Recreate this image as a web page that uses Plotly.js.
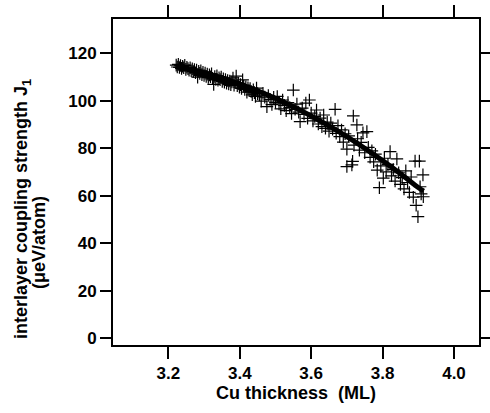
<!DOCTYPE html>
<html><head><meta charset="utf-8">
<script src="https://cdn.plot.ly/plotly-3.0.1.min.js"></script>
<style>body{margin:0;background:#fff}#plot{width:490px;height:413px}</style>
</head><body><div id="plot"></div>
<script>
// Measured points (Cu thickness in ML, J1 in ueV/atom)
const measX = [
3.222,3.225,3.228,3.231,3.234,3.237,3.240,3.243,3.246,3.249,3.252,3.255,3.258,3.261,3.264,3.267,3.270,3.273,3.276,3.279,
3.282,3.285,3.288,3.291,3.294,3.297,3.300,3.303,3.306,3.309,3.312,3.315,3.318,3.321,3.324,3.327,3.330,3.333,3.336,3.339,
3.342,3.345,3.348,3.351,3.354,3.357,3.360,3.363,3.366,3.369,3.372,3.375,3.378,3.381,3.384,3.387,3.390,3.393,3.396,3.399,
3.402,3.405,3.408,3.411,3.414,3.417,3.420,3.423,3.426,3.429,3.432,3.435,3.438,3.441,3.444,3.447,3.450,
3.455,3.460,3.465,3.470,3.476,3.480,3.485,3.490,3.495,3.500,3.505,3.510,3.515,3.520,3.525,3.530,3.535,3.540,3.545,3.550,
3.555,3.560,3.565,3.569,3.575,3.580,3.585,3.590,3.595,3.600,3.605,3.610,3.615,3.620,3.625,3.630,3.635,3.640,3.645,3.650,
3.655,3.660,3.667,3.670,3.675,3.680,3.685,3.690,3.695,3.700,3.700,3.705,3.714,3.716,3.718,3.720,3.728,3.730,3.735,3.740,
3.745,3.750,3.756,3.760,3.765,3.770,3.775,3.780,3.785,3.791,3.795,3.802,3.805,3.810,3.815,3.821,3.825,3.830,3.835,3.840,
3.845,3.850,3.855,3.860,3.865,3.870,3.875,3.880,3.886,3.891,3.894,3.899,3.903,3.905,3.908,3.913,3.914];
const measY = [
115.0,114.2,115.3,114.0,114.8,113.6,114.5,113.9,114.9,113.2,114.1,113.5,112.8,113.9,112.6,113.4,112.3,113.1,111.8,112.9,
109.9,112.4,111.5,112.6,111.0,112.0,110.6,111.6,110.2,111.2,109.8,110.9,110.1,111.3,109.4,106.9,110.2,109.0,110.5,108.6,
109.7,108.9,110.0,108.1,109.2,107.8,108.9,107.4,108.5,107.1,108.3,106.8,107.9,109.6,106.5,107.6,110.4,106.3,107.3,105.7,
106.8,105.2,108.8,106.1,104.8,105.9,103.6,105.4,104.3,105.1,103.9,102.5,104.6,103.4,101.8,105.3,103.0,
102.4,99.8,103.1,101.5,97.5,102.2,100.6,98.4,101.4,99.3,101.8,98.7,96.6,100.3,98.0,95.8,99.2,97.1,94.6,104.5,
96.4,98.6,95.2,91.2,96.9,94.3,99.0,92.6,100.3,94.8,91.5,93.4,96.1,90.2,92.7,89.1,94.0,88.4,91.0,87.2,
90.6,88.0,96.4,86.3,89.5,84.9,87.7,82.6,86.1,79.6,72.3,85.2,73.0,74.5,93.6,81.3,89.8,84.0,79.2,82.5,
86.5,78.1,87.0,80.4,76.2,78.9,74.3,77.5,70.8,63.4,72.6,67.4,75.8,70.1,73.2,78.6,68.4,71.0,66.2,75.5,
69.7,64.8,67.6,62.9,70.5,65.6,61.4,67.9,59.4,74.6,56.0,51.2,74.6,63.8,60.8,68.8,59.6];
// Fitted curve
const fitX = [3.22,3.25,3.30,3.35,3.40,3.45,3.50,3.55,3.60,3.65,3.70,3.75,3.80,3.85,3.90,3.915];
const fitY = [114.4,113.5,111.7,109.6,107.0,104.2,101.0,97.5,93.6,89.4,84.9,80.0,74.8,69.3,63.5,62.0];
const xTicks = [3.2,3.4,3.6,3.8,4.0];
const xTickText = ['3.2','3.4','3.6','3.8','4.0'];
const yTicks = [0,20,40,60,80,100,120];
const yTickText = ['0','20','40','60','80','100','120'];
const yTitleLines = ['interlayer coupling strength J<sub>1</sub>', '(μeV/atom)'];
const xTitle = 'Cu thickness&nbsp;&nbsp;(ML)';

const fam = '"Liberation Sans", Arial, sans-serif';
const tickFont = {family:fam, size:17, color:'#000', weight:'bold'};
const titleFont = {family:fam, size:18, color:'#000', weight:'bold'};
const traces = [
  {x:measX, y:measY, type:'scatter', mode:'markers',
   marker:{symbol:'cross-thin-open', size:9, color:'#000', line:{color:'#000', width:1.2}}},
  {x:fitX, y:fitY, type:'scatter', mode:'lines', line:{color:'#000', width:5, shape:'spline'}}
];
const axisCommon = {tickmode:'array', ticks:'outside', tickwidth:2, tickcolor:'#000', showline:true, linewidth:1.8,
  linecolor:'#000', mirror:'ticks', showgrid:false, zeroline:false, tickfont:tickFont};
const layout = {
  width:490, height:413, showlegend:false,
  paper_bgcolor:'#fff', plot_bgcolor:'#fff',
  margin:{l:113, r:11, t:19, b:68},
  font:tickFont,
  xaxis:Object.assign({}, axisCommon, {range:[3.045,4.07], tickvals:xTicks, ticktext:xTickText, ticklen:12,
    title:{text:xTitle, font:titleFont, standoff:4}}),
  yaxis:Object.assign({}, axisCommon, {range:[-2.8,134.4], tickvals:yTicks, ticktext:yTickText, ticklen:11,
    ticksuffix:'\u00a0'}),
  annotations:[
    {text:yTitleLines[0], xref:'paper', yref:'paper', x:-0.2473, y:0.4187, textangle:-90,
     showarrow:false, font:titleFont, xanchor:'center', yanchor:'middle'},
    {text:yTitleLines[1], xref:'paper', yref:'paper', x:-0.2022, y:0.316, textangle:-90,
     showarrow:false, font:titleFont, xanchor:'center', yanchor:'middle'}
  ]
};
Plotly.newPlot('plot', traces, layout, {displayModeBar:false});
</script></body></html>
